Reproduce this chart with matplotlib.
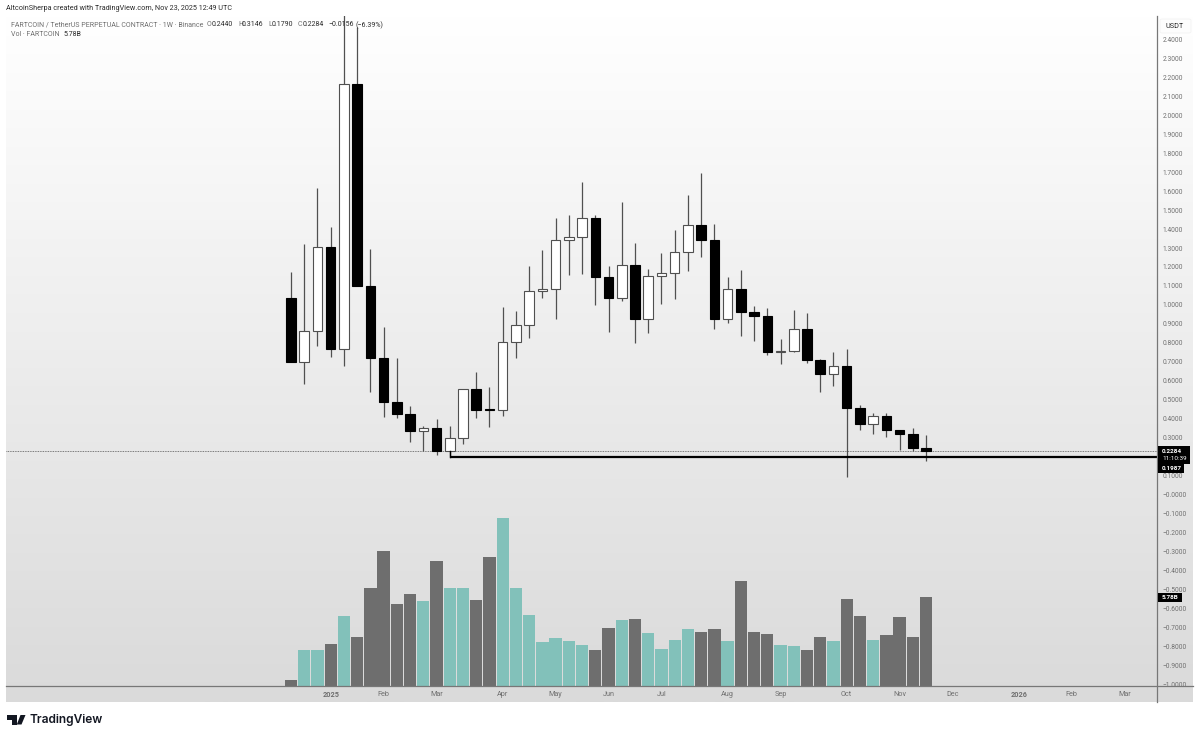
# FARTCOIN weekly candles with volume, TradingView style
import numpy as np
import matplotlib
matplotlib.use("Agg")
import matplotlib.pyplot as plt
from matplotlib.colors import LinearSegmentedColormap
from matplotlib.lines import Line2D
from matplotlib.patches import FancyBboxPatch, Polygon, Rectangle

plt.rcParams["font.family"] = ["Roboto", "DejaVu Sans"]

opens = [1.0346, 0.6971, 0.8641, 1.3036, 0.7657, 2.1634, 1.0997, 0.7182, 0.4861, 0.4228,
         0.3349, 0.3507, 0.2294, 0.2962, 0.5547, 0.4510, 0.4457, 0.8026, 0.8958, 1.0716,
         1.0856, 1.3441, 1.3599, 1.4566, 1.1472, 1.0382, 1.2087, 0.9256, 1.1542, 1.1700,
         1.2808, 1.4197, 1.3423, 0.9256, 1.0856, 0.9608, 0.9432, 0.7498, 0.7551, 0.8711,
         0.7094, 0.6338, 0.6760, 0.4545, 0.3718, 0.4123, 0.3384, 0.3209, 0.2440]
highs = [1.1753, 1.3195, 1.6148, 1.4091, 2.6000, 2.4675, 1.2931, 0.8852, 0.7182, 0.4668,
         0.3630, 0.3965, 0.3613, 0.5564, 0.6479, 0.5687, 0.9872, 0.9678, 1.2070, 1.2896,
         1.4566, 1.4759, 1.6482, 1.4724, 1.2070, 1.5445, 1.3247, 1.1876, 1.2755, 1.3951,
         1.5779, 1.6939, 1.4249, 1.1472, 1.1823, 0.9942, 0.9837, 0.8202, 0.9731, 0.9555,
         0.7164, 0.7498, 0.7674, 0.4738, 0.4299, 0.4299, 0.3384, 0.3507, 0.3146]
lows = [0.6971, 0.5811, 0.7850, 0.7235, 0.6778, 1.0997, 0.5389, 0.4105, 0.4035, 0.2787,
        0.2312, 0.2101, 0.1987, 0.2664, 0.4035, 0.3560, 0.4123, 0.7182, 0.8254, 1.0382,
        0.9256, 1.1559, 1.1630, 1.0012, 0.8588, 1.0223, 0.7973, 0.8536, 1.0048, 1.0329,
        1.1788, 1.2509, 0.8711, 0.9045, 0.8360, 0.8096, 0.7340, 0.6865, 0.7533, 0.6936,
        0.5389, 0.5740, 0.0941, 0.3402, 0.3173, 0.3015, 0.2347, 0.2294, 0.1790]
closes = [0.6971, 0.8641, 1.3036, 0.7657, 2.1634, 1.0997, 0.7182, 0.4861, 0.4228, 0.3349,
          0.3507, 0.2294, 0.2962, 0.5547, 0.4474, 0.4474, 0.8026, 0.8958, 1.0716, 1.0856,
          1.3441, 1.3599, 1.4566, 1.1472, 1.0364, 1.2087, 0.9256, 1.1542, 1.1700, 1.2808,
          1.4197, 1.3423, 0.9256, 1.0856, 0.9608, 0.9432, 0.7498, 0.7569, 0.8711, 0.7094,
          0.6338, 0.6760, 0.4545, 0.3718, 0.4123, 0.3384, 0.3209, 0.2435, 0.2284]
volumes = [0.33, 2.29, 2.29, 2.71, 4.52, 3.16, 6.35, 8.82, 5.30, 6.00,
           5.52, 8.14, 6.35, 6.39, 5.61, 8.40, 10.93, 6.35, 4.58, 2.84,
           3.08, 2.88, 2.64, 2.29, 3.77, 4.28, 4.32, 3.43, 2.36, 2.99,
           3.69, 3.49, 3.71, 2.88, 6.83, 3.47, 3.34, 2.64, 2.60, 2.31,
           3.14, 2.88, 5.67, 4.56, 2.99, 3.32, 4.47, 3.14, 5.78]
volume_up = [0, 1, 1, 0, 1, 0, 0, 0, 0, 0,
             1, 0, 1, 1, 0, 0, 1, 1, 1, 1,
             1, 1, 1, 0, 0, 1, 0, 1, 1, 1,
             1, 0, 0, 1, 0, 0, 0, 1, 1, 0,
             0, 1, 0, 0, 1, 0, 0, 0, 0]

month_bars = [3, 7, 11, 16, 20, 24, 28, 33, 37, 42, 46, 50, 55, 59, 63]
month_labels = ["2025", "Feb", "Mar", "Apr", "May", "Jun", "Jul", "Aug", "Sep", "Oct", "Nov", "Dec",
                "2026", "Feb", "Mar"]
# 0.2 is left out, its label sits under the price boxes
price_ticks = [p for p in np.round(np.arange(-1.0, 2.41, 0.1), 1) if p != 0.2]

last_price = 0.2284
support_price = 0.1987
support_bar = 12

W, H = 1200, 738
BAR_PX = 13.23
FIRST_BAR_PX = 291
PRICE_PX = 189.6
ZERO_PX = 494.5
VOL_PX = 15.29

TEAL = "#82c1ba"
GREY = "#6e6e6e"
WICK = "#505050"
LABEL = "#6f6f6f"
DARK = "#2a2a2a"
AXIS = "#777777"


def fx(px):
    return px / W


def fy(px):
    return 1 - px / H


fig = plt.figure(figsize=(W / 100, H / 100), dpi=100, facecolor="white")

# gradient behind the panes
bg = fig.add_axes([fx(6), fy(702), fx(1193 - 6), (702 - 16) / H])
cmap = LinearSegmentedColormap.from_list("pane", ["#ffffff", "#dadada"])
bg.imshow(np.linspace(0, 1, 256).reshape(-1, 1), aspect="auto", cmap=cmap)
bg.axis("off")

left, right, top, bottom = 6, 1157, 16, 685.5
ax = fig.add_axes([fx(left), fy(bottom), fx(right - left), (bottom - top) / H])
ax.patch.set_alpha(0)
ax.set_xlim((left - FIRST_BAR_PX) / BAR_PX, (right - FIRST_BAR_PX) / BAR_PX)
ax.set_ylim((ZERO_PX - bottom) / PRICE_PX, (ZERO_PX - top) / PRICE_PX)

vol_ax = ax.twinx()
vol_ax.patch.set_alpha(0)
vol_ax.set_ylim(0, (bottom - top) / VOL_PX)
vol_ax.axis("off")

xs = np.arange(len(opens))
vol_colors = [TEAL if up else GREY for up in volume_up]
vol_ax.bar(xs, volumes, width=0.93, color=vol_colors, zorder=1)

ax.set_zorder(vol_ax.get_zorder() + 1)
ax.vlines(xs, lows, highs, color=WICK, lw=0.9, zorder=2)
body_low = np.minimum(opens, closes)
body_high = np.maximum(opens, closes)
is_up = np.array(closes) >= np.array(opens)
ax.bar(xs, body_high - body_low, bottom=body_low, width=0.72,
       color=["white" if up else "black" for up in is_up],
       edgecolor=[WICK if up else "black" for up in is_up], linewidth=0.8, zorder=3)

ax.axhline(last_price, color="#555555", lw=0.6, ls=(0, (1, 1)), zorder=2)
ax.plot([support_bar, ax.get_xlim()[1]], [support_price, support_price], color="black", lw=1.6,
        solid_capstyle="butt", zorder=4)
ax.plot([support_bar, support_bar], [support_price, 0.2294], color="black", lw=1.0, zorder=4)

ax.yaxis.tick_right()
ax.set_yticks(price_ticks)
ax.set_yticklabels([f"{p:.4f}".replace("-", "\u2212") if p != 0 else "\u22120.0000" for p in price_ticks])
ax.set_xticks(month_bars)
ax.set_xticklabels(month_labels)
ax.tick_params(axis="y", length=0, pad=4, labelsize=4.8, labelcolor=LABEL)
ax.tick_params(axis="x", length=0, pad=4, labelsize=5.2, labelcolor=LABEL)
ax.get_xticklabels()[0].set_fontweight("bold")
ax.get_xticklabels()[12].set_fontweight("bold")
for side in ax.spines:
    ax.spines[side].set_visible(False)

# axis lines run on past the plot area
fig.add_artist(Line2D([fx(6), fx(1193)], [fy(685.5), fy(685.5)], color=AXIS, lw=0.9))
fig.add_artist(Line2D([fx(1157), fx(1157)], [fy(16), fy(702)], color=AXIS, lw=0.9))

# header text
fig.text(fx(6), fy(8.5), "AltcoinSherpa created with TradingView.com, Nov 23, 2025 12:49 UTC",
         fontsize=5.2, color=DARK, va="center")
fig.text(fx(11), fy(25), "FARTCOIN / TetherUS PERPETUAL CONTRACT \u00b7 1W \u00b7 Binance",
         fontsize=5, color=LABEL, va="center")
for x_px, txt, col in [(207, "O", LABEL), (211.5, "0.2440", DARK), (238, "H", LABEL), (242, "0.3146", DARK),
                       (268, "L", LABEL), (271.5, "0.1790", DARK), (298, "C", LABEL), (302.5, "0.2284", DARK),
                       (328, "\u22120.0156", DARK), (356, "(\u22126.39%)", DARK)]:
    fig.text(fx(x_px), fy(25), txt, fontsize=5, color=col, va="center")
fig.text(fx(11), fy(35), "Vol \u00b7 FARTCOIN", fontsize=5, color=LABEL, va="center")
fig.text(fx(63), fy(35), "5.78B", fontsize=5, color=DARK, va="center")

# currency chip over the price axis
fig.add_artist(FancyBboxPatch((fx(1160), fy(33)), fx(31), 14 / H, boxstyle="round,pad=0,rounding_size=0.002",
                              transform=fig.transFigure, facecolor="#fdfdfd", edgecolor="#f1f1f1", lw=0.5))
fig.text(fx(1165), fy(26.5), "USDT", fontsize=5.2, color=DARK, va="center")


def price_box(x0, x1, y0, y1):
    fig.add_artist(Rectangle((fx(x0), fy(y1)), fx(x1 - x0), (y1 - y0) / H, transform=fig.transFigure,
                             facecolor="black", edgecolor="none", zorder=5))


price_box(1158, 1190, 446, 464)
price_box(1158, 1184, 464, 473)
price_box(1158, 1182, 592.5, 602)
for y_px, txt, weight in [(451, "0.2284", "bold"), (459, "11:10:39", "normal"), (468.7, "0.1987", "bold"),
                          (597.3, "5.78B", "bold")]:
    fig.text(fx(1162), fy(y_px), txt, fontsize=4.6, color="white", va="center", fontweight=weight, zorder=6)

# TradingView mark and wordmark
logo = [[(7.3, 715), (17, 715), (17, 724.5), (12, 724.5), (12, 719.5), (7.3, 719.5)],
        [(20.5, 715), (25.5, 715), (21.5, 724.5), (16.8, 724.5)]]
for pts in logo:
    fig.add_artist(Polygon([(fx(x), fy(y)) for x, y in pts], closed=True, transform=fig.transFigure,
                           facecolor="#131722", edgecolor="none"))
fig.text(fx(29), fy(720.3), "TradingView", fontsize=8.6, color="#131722", va="center",
         family=["Inter", "DejaVu Sans"], fontweight="semibold")

fig.savefig("out.png", dpi=100, facecolor="white")
